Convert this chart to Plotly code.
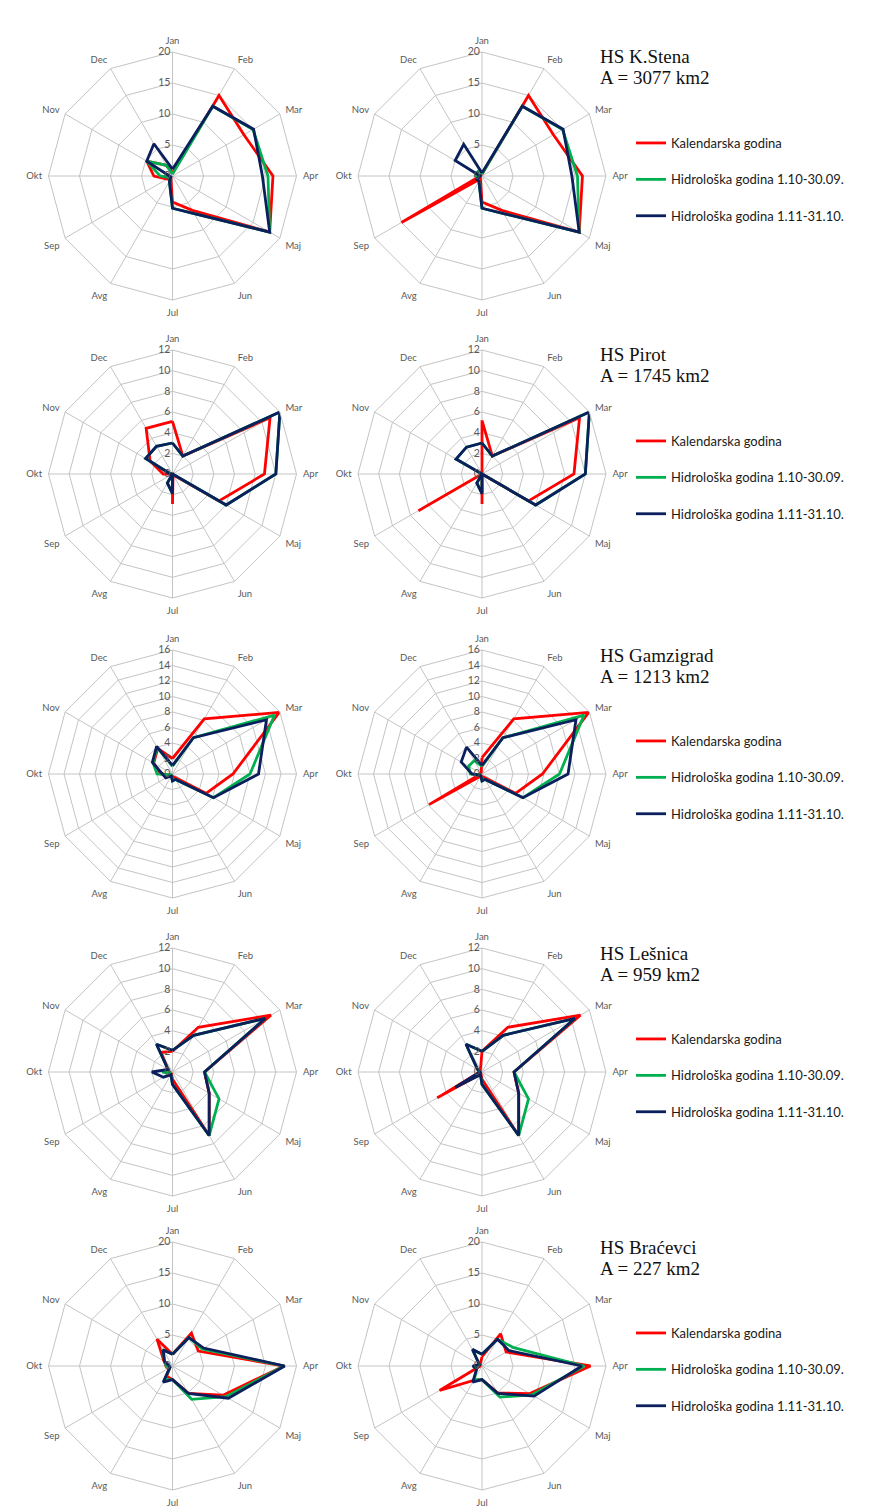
import plotly.graph_objects as go

# ---------------- data ----------------
months = ["Jan", "Feb", "Mar", "Apr", "Maj", "Jun", "Jul", "Avg", "Sep", "Okt", "Nov", "Dec"]

stations = ["HS K.Stena", "HS Pirot", "HS Gamzigrad", "HS Lešnica", "HS Braćevci"]
areas = ["A = 3077 km2", "A = 1745 km2", "A = 1213 km2", "A = 959 km2", "A = 227 km2"]
radial_max = [20, 12, 16, 12, 20]
radial_step = [5, 2, 2, 2, 5]

series_names = ["Kalendarska godina", "Hidrološka godina 1.10-30.09.", "Hidrološka godina 1.11-31.10."]
series_colors = ["#FF0000", "#00B050", "#0A1F5C"]

# HS K.Stena
kstena_left_kal = [0.5, 15.0, 13.3, 16.2, 18.1, 6.4, 4.2, 0.5, 1.0, 3.0, 4.8, 2.0]
kstena_left_h1 = [0.3, 13.0, 15.0, 15.4, 18.1, 7.0, 5.2, 1.0, 0.5, 2.0, 4.8, 2.0]
kstena_left_h2 = [1.1, 13.0, 15.1, 14.5, 18.1, 7.0, 5.2, 1.0, 0.3, 0.5, 4.8, 6.0]
kstena_right_kal = [0.3, 15.0, 13.3, 16.2, 18.1, 6.4, 4.2, 0.5, 15.0, 0.3, 0.3, 0.3]
kstena_right_h1 = [0.3, 13.0, 15.0, 15.4, 18.1, 7.0, 5.2, 1.0, 0.8, 1.0, 1.0, 1.0]
kstena_right_h2 = [0.5, 13.0, 15.1, 14.5, 18.1, 7.0, 5.2, 1.0, 1.0, 0.3, 5.0, 5.9]

# HS Pirot
pirot_left_kal = [5.1, 2.0, 10.9, 8.9, 5.2, 0.1, 2.9, 0.0, 0.0, 0.9, 2.5, 5.1]
pirot_left_h1 = [3.0, 2.0, 12.0, 10.0, 6.0, 0.0, 1.9, 1.0, 0.0, 0.2, 3.0, 3.1]
pirot_left_h2 = [3.0, 2.0, 12.0, 10.0, 6.0, 0.0, 1.9, 1.0, 0.0, 0.2, 3.0, 3.1]
pirot_right_kal = [5.2, 2.0, 10.9, 8.9, 5.2, 0.0, 2.9, 0.0, 7.1, 0.0, 0.0, 0.0]
pirot_right_h1 = [3.0, 2.0, 12.0, 10.0, 6.0, 0.0, 1.9, 1.0, 0.0, 0.0, 2.9, 3.0]
pirot_right_h2 = [3.0, 2.0, 12.0, 10.0, 6.0, 0.0, 1.9, 1.0, 0.0, 0.0, 2.9, 3.0]

# HS Gamzigrad
gamz_left_kal = [2.0, 8.2, 15.9, 7.8, 5.0, 0.5, 0.3, 0.3, 0.3, 1.5, 2.8, 3.8]
gamz_left_h1 = [1.0, 5.4, 15.2, 10.0, 6.1, 0.8, 0.9, 0.3, 0.2, 2.0, 2.9, 4.0]
gamz_left_h2 = [1.1, 5.4, 14.0, 11.1, 6.1, 0.8, 0.9, 0.3, 1.0, 1.3, 3.0, 4.1]
gamz_right_kal = [2.1, 8.2, 15.9, 7.8, 5.0, 0.5, 0.3, 0.3, 7.9, 0.2, 0.2, 0.2]
gamz_right_h1 = [1.0, 5.4, 15.2, 10.0, 6.1, 0.8, 0.9, 0.3, 0.2, 1.5, 2.0, 2.0]
gamz_right_h2 = [1.1, 5.4, 14.0, 11.1, 6.1, 0.8, 0.9, 0.3, 0.3, 1.3, 3.1, 4.0]

# HS Lešnica
lesn_left_kal = [2.0, 5.0, 11.0, 3.1, 4.1, 7.1, 0.7, 0.2, 0.2, 0.3, 0.5, 2.2]
lesn_left_h1 = [2.1, 4.1, 10.4, 3.1, 5.2, 7.1, 1.2, 0.3, 0.2, 1.0, 0.5, 3.1]
lesn_left_h2 = [2.1, 4.1, 10.4, 3.1, 4.1, 7.1, 1.2, 0.3, 1.0, 2.0, 0.5, 3.1]
lesn_right_kal = [2.0, 5.0, 11.0, 3.1, 4.1, 7.1, 0.7, 0.2, 5.0, 0.2, 0.2, 0.3]
lesn_right_h1 = [2.0, 4.1, 10.4, 3.1, 5.2, 7.1, 1.2, 0.3, 0.5, 0.2, 0.5, 3.1]
lesn_right_h2 = [2.0, 4.1, 10.4, 3.1, 4.1, 7.1, 1.2, 0.3, 3.0, 0.2, 0.5, 3.1]

# HS Braćevci
brac_left_kal = [1.9, 6.1, 4.8, 18.0, 9.4, 5.1, 2.2, 1.9, 0.5, 1.0, 1.6, 5.0]
brac_left_h1 = [1.9, 5.3, 5.5, 18.0, 9.9, 6.2, 2.2, 2.5, 0.5, 1.0, 1.5, 3.0]
brac_left_h2 = [1.9, 5.3, 5.8, 18.1, 10.4, 5.1, 2.2, 3.0, 0.5, 0.5, 1.5, 3.0]
brac_right_kal = [1.5, 6.0, 4.5, 17.5, 8.9, 5.0, 2.2, 2.7, 7.9, 0.3, 0.3, 0.5]
brac_right_h1 = [1.9, 5.0, 5.9, 16.5, 9.3, 5.8, 2.2, 2.5, 1.0, 1.0, 0.5, 3.0]
brac_right_h2 = [1.9, 5.0, 5.0, 16.1, 9.7, 5.1, 2.2, 3.0, 1.0, 1.5, 0.5, 3.1]

panels = [
    [[kstena_left_kal, kstena_left_h1, kstena_left_h2], [kstena_right_kal, kstena_right_h1, kstena_right_h2]],
    [[pirot_left_kal, pirot_left_h1, pirot_left_h2], [pirot_right_kal, pirot_right_h1, pirot_right_h2]],
    [[gamz_left_kal, gamz_left_h1, gamz_left_h2], [gamz_right_kal, gamz_right_h1, gamz_right_h2]],
    [[lesn_left_kal, lesn_left_h1, lesn_left_h2], [lesn_right_kal, lesn_right_h1, lesn_right_h2]],
    [[brac_left_kal, brac_left_h1, brac_left_h2], [brac_right_kal, brac_right_h1, brac_right_h2]],
]

# ---------------- layout constants ----------------
# the page body has an 8px margin, so the figure starts at (8, 8) of the window
OFF = 8
W, H = 869 - OFF, 1508 - OFF
row_cy = [176, 474, 774, 1072, 1366]   # window pixels
col_cx = [172.5, 482]
R = 124
GRID = "#c4c4c4"
LABEL = "#595959"


def fx(px):
    return (px - OFF) / W


def fy(py):
    return (H - (py - OFF)) / H


fig = go.Figure()
layout = dict(
    width=W, height=H, autosize=False,
    margin=dict(l=0, r=0, t=0, b=0),
    paper_bgcolor="white", plot_bgcolor="white",
    annotations=[],
)

for ri in range(5):
    legend_name = "legend" if ri == 0 else f"legend{ri + 1}"
    for ci in range(2):
        idx = ri * 2 + ci + 1
        pname = "polar" if idx == 1 else f"polar{idx}"
        cx, cy = col_cx[ci], row_cy[ri]
        layout[pname] = dict(
            domain=dict(x=[fx(cx - R), fx(cx + R)],
                        y=[fy(cy + R), fy(cy - R)]),
            bgcolor="white",
            gridshape="linear",
            angularaxis=dict(
                type="category", categoryarray=months,
                rotation=90, direction="clockwise",
                showline=True, linecolor=GRID, linewidth=1,
                showgrid=True, gridcolor=GRID, gridwidth=1,
                ticks="outside", ticklen=4, tickcolor="rgba(0,0,0,0)",
                tickfont=dict(family="Lato", size=9.5, color=LABEL),
            ),
            radialaxis=dict(
                range=[0, radial_max[ri]],
                tickvals=list(range(0, radial_max[ri] + 1, radial_step[ri])),
                angle=90, tickangle=90, side="counterclockwise",
                showline=False, ticks="",
                showgrid=True, gridcolor=GRID, gridwidth=1,
                tickfont=dict(family="Lato", size=10.5, color=LABEL),
            ),
        )
        for si in range(3):
            vals = panels[ri][ci][si]
            fig.add_trace(go.Scatterpolar(
                r=vals + [vals[0]],
                theta=months + [months[0]],
                mode="lines",
                line=dict(color=series_colors[si], width=2.8),
                name=series_names[si],
                subplot=pname,
                legend=legend_name,
                legendgroup=f"row{ri}_s{si}",
                showlegend=(ci == 1),
                hoverinfo="skip",
            ))
    cy = row_cy[ri]
    layout[legend_name] = dict(
        x=fx(631), xanchor="left",
        y=fy(cy - 48), yanchor="top",
        bgcolor="rgba(0,0,0,0)",
        font=dict(family="Lato", size=13, color="#1a1a1a"),
        traceorder="grouped", tracegroupgap=16.5,
        itemwidth=30,
    )
    layout["annotations"].append(dict(
        x=fx(598), y=fy(cy - 119), xref="paper", yref="paper",
        xanchor="left", yanchor="middle", showarrow=False,
        text=stations[ri],
        font=dict(family="Liberation Serif", size=19, color="#111111"),
    ))
    layout["annotations"].append(dict(
        x=fx(598), y=fy(cy - 98), xref="paper", yref="paper",
        xanchor="left", yanchor="middle", showarrow=False,
        text=areas[ri],
        font=dict(family="Liberation Serif", size=19, color="#111111"),
    ))

fig.update_layout(**layout)
fig.write_html("out.html")
